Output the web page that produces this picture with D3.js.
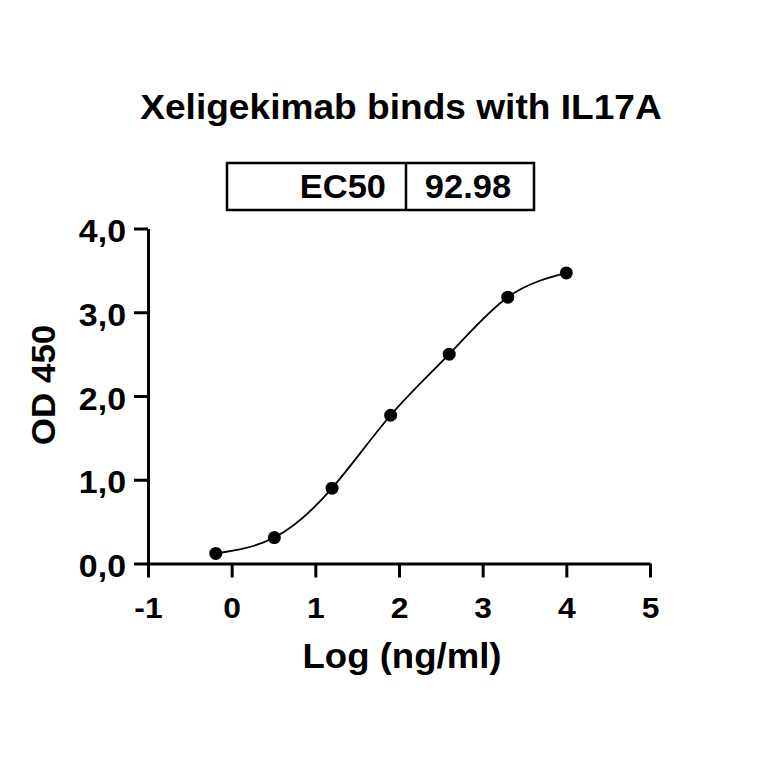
<!DOCTYPE html>
<html>
<head>
<meta charset="utf-8">
<script src="https://cdn.jsdelivr.net/npm/d3@7"></script>
<style>
  html, body { margin: 0; padding: 0; background: #fff; }
  svg text { font-family: "Liberation Sans", Arial, sans-serif; font-weight: bold; fill: #000; }
</style>
</head>
<body>
<svg id="chart"></svg>
<script>
const logConc = [-0.19, 0.51, 1.20, 1.90, 2.60, 3.30, 4.00]
const od450 = [0.12, 0.31, 0.90, 1.77, 2.50, 3.18, 3.47]
const xTicks = [-1, 0, 1, 2, 3, 4, 5]
const yTicks = [0, 1, 2, 3, 4]
const yTickLabels = ['0,0', '1,0', '2,0', '3,0', '4,0']
const title = 'Xeligekimab binds with IL17A'
const ec50Label = 'EC50'
const ec50Value = '92.98'

const width = 764, height = 764
// the original lettering is slightly wider than Liberation Sans
const stretch = 1.06

const svg = d3.select('#chart')
  .attr('width', width)
  .attr('height', height)

const x = d3.scaleLinear().domain([-1, 5]).range([148, 650])
const y = d3.scaleLinear().domain([0, 4]).range([563.5, 228.5])

const points = logConc.map((v, i) => ({ x: v, y: od450[i] }))

function widen(sel) {
  sel.each(function () {
    const len = this.getComputedTextLength()
    d3.select(this)
      .attr('textLength', len * stretch)
      .attr('lengthAdjust', 'spacingAndGlyphs')
  })
}

// title
svg.append('text')
  .attr('x', 401)
  .attr('y', 119)
  .attr('text-anchor', 'middle')
  .style('font-size', '35px')
  .text(title)
  .call(widen)

// EC50 table
const box = svg.append('g')
box.append('rect')
  .attr('x', 227).attr('y', 163)
  .attr('width', 307).attr('height', 47)
  .attr('fill', 'none')
  .attr('stroke', '#000')
  .attr('stroke-width', 2.5)
box.append('line')
  .attr('x1', 406).attr('x2', 406)
  .attr('y1', 163).attr('y2', 210)
  .attr('stroke', '#000')
  .attr('stroke-width', 2.5)
box.append('text')
  .attr('x', 386).attr('y', 198)
  .attr('text-anchor', 'end')
  .style('font-size', '32.5px')
  .text(ec50Label)
  .call(widen)
box.append('text')
  .attr('x', 468).attr('y', 198)
  .attr('text-anchor', 'middle')
  .style('font-size', '32.5px')
  .text(ec50Value)
  .call(widen)

// axes
const xAxis = d3.axisBottom(x)
  .tickValues(xTicks)
  .tickSize(14)
  .tickSizeOuter(0)
  .tickPadding(19)
  .tickFormat(d => String(d))

const yAxis = d3.axisLeft(y)
  .tickValues(yTicks)
  .tickSize(14)
  .tickSizeOuter(0)
  .tickPadding(8)
  .tickFormat((d, i) => yTickLabels[i])

const gx = svg.append('g')
  .attr('transform', `translate(0,${y(0)})`)
  .call(xAxis)
const gy = svg.append('g')
  .attr('transform', `translate(${x(-1)},0)`)
  .call(yAxis)

;[gx, gy].forEach(g => {
  g.select('.domain').attr('stroke-width', 3).attr('stroke', '#000')
  g.selectAll('.tick line').attr('stroke-width', 3).attr('stroke', '#000')
  g.selectAll('.tick text')
    .attr('fill', '#000')
    .style('font-family', '"Liberation Sans", Arial, sans-serif')
    .style('font-weight', 'bold')
})
gx.selectAll('.tick text').style('font-size', '30px').call(widen)
gy.selectAll('.tick text').style('font-size', '32px').attr('dy', '0.41em').call(widen)

// axis titles
svg.append('text')
  .attr('x', 402)
  .attr('y', 668)
  .attr('text-anchor', 'middle')
  .style('font-size', '34.5px')
  .text('Log (ng/ml)')
  .call(widen)

svg.append('text')
  .attr('transform', 'translate(55,385) rotate(-90)')
  .attr('text-anchor', 'middle')
  .style('font-size', '33px')
  .text('OD 450')
  .call(widen)

// fitted curve through the points
const line = d3.line()
  .x(d => x(d.x))
  .y(d => y(d.y))
  .curve(d3.curveNatural)

svg.append('path')
  .datum(points)
  .attr('d', line)
  .attr('fill', 'none')
  .attr('stroke', '#000')
  .attr('stroke-width', 1.8)

svg.append('g')
  .selectAll('circle')
  .data(points)
  .join('circle')
  .attr('cx', d => x(d.x))
  .attr('cy', d => y(d.y))
  .attr('r', 6.5)
  .attr('fill', '#000')
</script>
</body>
</html>
